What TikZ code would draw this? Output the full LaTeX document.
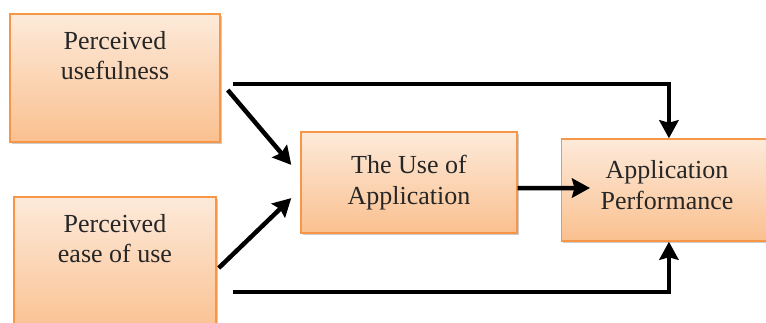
\documentclass[tikz,border=0pt]{standalone}
\usepackage{fontspec}
\setmainfont{Liberation Serif}
\usetikzlibrary{arrows.meta, shadows, positioning}

\definecolor{peachtop}{RGB}{253,234,218}
\definecolor{peachbot}{RGB}{250,192,143}
\definecolor{boxline}{RGB}{247,150,70}

\tikzset{
  factor/.style={draw=boxline, line width=1pt, top color=peachtop, bottom color=peachbot,
    drop shadow={shadow xshift=0.04cm, shadow yshift=-0.06cm, fill=black!40, opacity=0.5}},
  caption/.style={align=center, font=\fontsize{18.5}{21.5}\selectfont, text=black!85},
  link/.style={line width=3.2pt, -{Stealth[length=0.45cm, width=0.48cm, inset=0.06cm]}}
}

\begin{document}
\begin{tikzpicture}[x=0.025cm, y=-0.025cm]
    \useasboundingbox (0,0) rectangle (766,322);

    % Boxes
    \node[factor, minimum width=5.25cm, minimum height=3.2cm] (pu) at (115,78) {};
    \node[caption, below=0.33cm of pu.north] (putext) {Perceived\\usefulness};

    \node[factor, minimum width=5.05cm, minimum height=3.45cm] (pe) at (115,266) {};
    \node[caption, below=0.33cm of pe.north] (petext) {Perceived\\ease of use};

    \node[factor, caption, minimum width=5.4cm, minimum height=2.525cm] (ua) at (409,182.5) {The Use of\\Application};

    % box runs past the right margin
    \node[factor, anchor=west, minimum width=6.4cm, minimum height=2.55cm] (ap) at (561,190) {};
    \node[caption] (aptext) at (667,185) {Application\\Performance};

    % Arrows
    \draw[link] ([shift={(0.3cm,-0.15cm)}]pu.east) -| ([xshift=-0.52cm]ap.north);
    \draw[link] ([shift={(0.175cm,-0.3cm)}]pu.east) -- ([shift={(-0.225cm,0.44cm)}]ua.west);
    \draw[link] ([shift={(0.05cm,-0.05cm)}]pe.east) -- ([shift={(-0.225cm,-0.39cm)}]ua.west);
    \draw[link] ([shift={(0.4cm,-0.65cm)}]pe.east) -| ([xshift=-0.52cm]ap.south);
    \draw[link] ([yshift=-0.14cm]ua.east) -- ([shift={(0.725cm,0.05cm)}]ap.west);
\end{tikzpicture}
\end{document}
